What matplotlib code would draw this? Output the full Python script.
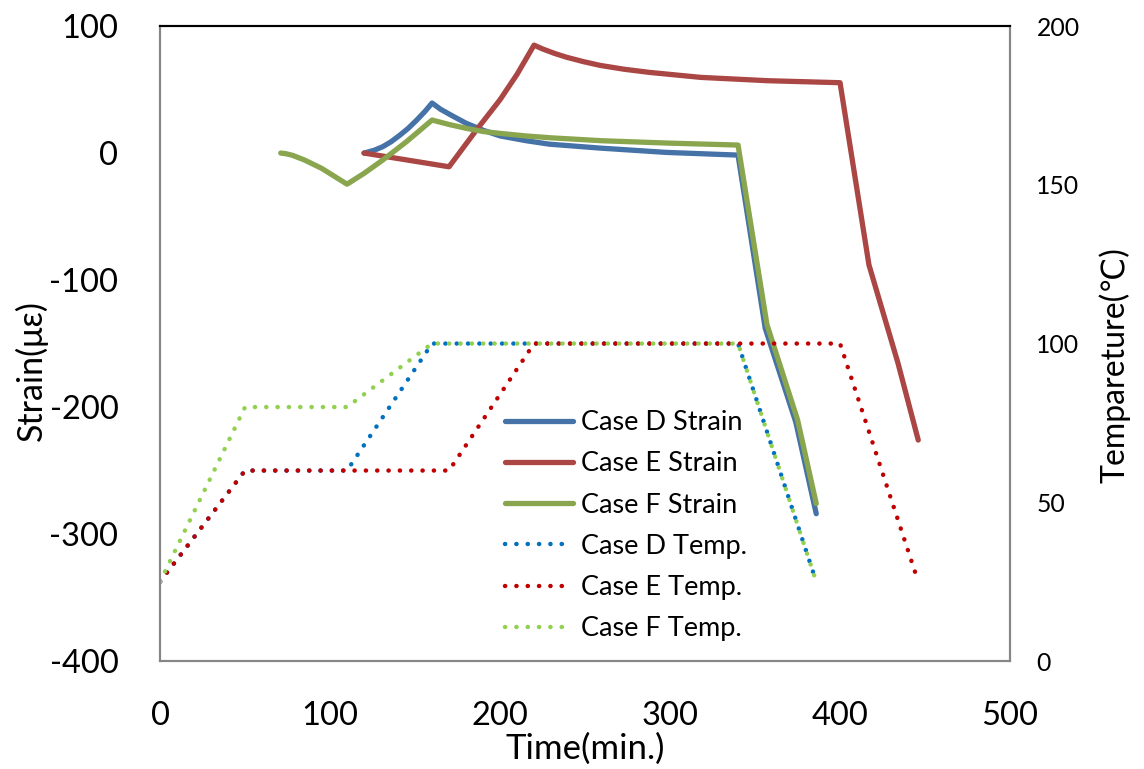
import numpy as np
import matplotlib
matplotlib.use("Agg")
import matplotlib.pyplot as plt

plt.rcParams['font.family'] = ['Lato', 'DejaVu Sans']
plt.rcParams['axes.unicode_minus'] = False

# strain (left axis, micro-strain)
t_d = [120, 126, 131, 136, 141, 146, 151, 156, 160, 165, 171, 180, 190, 200, 215, 229, 259, 298, 340, 356, 374, 386]
s_d = [0, 2.2, 5, 9, 14, 19.5, 26, 33, 39.4, 34.5, 30, 23.5, 18, 13.5, 9.8, 7, 3.9, 0.5, -1.6, -138, -212, -284]

t_e = [120, 170, 186, 200, 210, 220, 225, 232, 239, 249, 259, 273, 288, 318, 357, 400, 417, 434, 446]
s_e = [0, -10.8, 18, 42, 62, 85, 82, 78.5, 75.5, 72, 69, 66, 63.5, 59.6, 57, 55.4, -88, -165, -226]

t_f = [71, 74, 78, 85, 95, 110, 120, 131, 145, 160, 170, 180, 190, 200, 215, 230, 260, 300, 340, 357, 375, 386]
s_f = [0, -0.5, -1.8, -5.5, -12, -24.5, -16, -5.5, 9, 26, 22.5, 19.5, 17, 15.5, 13.5, 12, 9.7, 7.8, 6.3, -135, -210, -276]

# temperature (right axis)
tt_d = [0, 50, 110, 160, 340, 386]
T_d = [25, 60, 60, 100, 100, 25]
tt_e = [0, 50, 170, 220, 400, 446]
T_e = [25, 60, 60, 100, 100, 25]
tt_f = [0, 50, 110, 160, 340, 386]
T_f = [25, 80, 80, 100, 100, 25]

fig = plt.figure(figsize=(11.44, 7.69), dpi=100)
ax = fig.add_axes([0.1399, 0.1404, 0.743, 0.8257])
ax2 = ax.twinx()

lw = 3.8
sk = dict(lw=lw, solid_capstyle='round', solid_joinstyle='round')
l1, = ax.plot(t_d, s_d, color='#4572A7', label='Case D Strain', **sk)
l2, = ax.plot(t_e, s_e, color='#AA4643', label='Case E Strain', **sk)
l3, = ax.plot(t_f, s_f, color='#89A54E', label='Case F Strain', **sk)

dot = (0, (0.05, 2.5))
kw = dict(lw=3.2, linestyle=dot, dash_capstyle='round')
l4, = ax2.plot(tt_d, T_d, color='#0070C0', label='Case D Temp.', **kw)
l5, = ax2.plot(tt_e, T_e, color='#C00000', label='Case E Temp.', **kw)
l6, = ax2.plot(tt_f, T_f, color='#92D050', label='Case F Temp.', **kw)

ax.set_xlim(0, 500)
ax.set_ylim(-400, 100)
ax2.set_ylim(0, 200)
ax.set_xticks([0, 100, 200, 300, 400, 500])
ax.set_yticks([-400, -300, -200, -100, 0, 100])
ax2.set_yticks([0, 50, 100, 150, 200])

ax.tick_params(axis='x', length=0, pad=29, labelsize=23.5)
ax.tick_params(axis='y', length=0, pad=30, labelsize=23.5)
ax2.tick_params(axis='y', length=0, pad=19, labelsize=17.8)

for a in (ax, ax2):
    for sp in ['left', 'bottom', 'right']:
        a.spines[sp].set_color('#868686')
        a.spines[sp].set_linewidth(1.5)
    a.spines['top'].set_color('black')
    a.spines['top'].set_linewidth(1.5)

ax.set_xlabel('Time(min.)', fontsize=25)
ax.xaxis.set_label_coords(0.5, -0.112)
ax.set_ylabel('Strain(με)', fontsize=24.5)
ax.yaxis.set_label_coords(-0.132, 0.458)
ax2.set_ylabel('Tempareture(℃)', fontsize=23)
ax2.yaxis.set_label_coords(1.104, 0.466)

ax2.legend(handles=[l1, l2, l3, l4, l5, l6], loc='upper left',
           bbox_to_anchor=(0.406, 0.395), frameon=False, fontsize=19.5,
           borderaxespad=0, borderpad=0, handlelength=2.5,
           handletextpad=0.3, labelspacing=0.6)

fig.savefig('out.png', dpi=100)
